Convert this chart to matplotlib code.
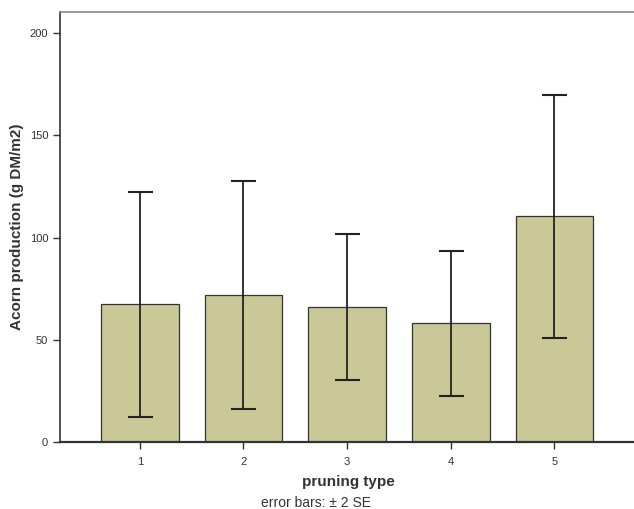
import numpy as np
import matplotlib
matplotlib.use("Agg")
import matplotlib.pyplot as plt

# pruning types and mean acorn production with +/- 2 SE
types = ["1", "2", "3", "4", "5"]
means = [67.4, 71.8, 66.1, 58.0, 110.3]
err2se = [55.0, 55.8, 35.6, 35.5, 59.5]

plt.rcParams["font.family"] = "Liberation Sans"

fig = plt.figure(figsize=(6.34, 5.09), dpi=100)
ax = fig.add_axes([60/634, 67/509, 1 - 60/634 + 0.002, 430/509])

x = np.arange(1, len(types) + 1)
ax.bar(x, means, width=0.75, color="#c9c896", edgecolor="#333333", linewidth=0.9, zorder=2)
ax.errorbar(x, means, yerr=err2se, fmt="none", ecolor="#222222", elinewidth=1.3,
            capsize=9, capthick=1.5, zorder=3)

ax.set_xlim(0.23, 5.78)
ax.set_ylim(0, 210.3)
ax.set_xticks(x)
ax.set_xticklabels(types)
ax.set_yticks([0, 50, 100, 150, 200])
ax.tick_params(axis="both", labelsize=8, colors="#333333", length=5, width=1, direction="out")
ax.tick_params(axis="x", pad=6)

ax.spines["right"].set_visible(False)
ax.spines["top"].set_color("#888888")
ax.spines["top"].set_linewidth(1.2)
ax.spines["left"].set_color("#333333")
ax.spines["left"].set_linewidth(1.2)
ax.spines["bottom"].set_color("#333333")
ax.spines["bottom"].set_linewidth(1.6)

ax.set_ylabel("Acorn production (g DM/m2)", fontsize=11, fontweight="bold", color="#333333", labelpad=4)
fig.text(348/634, 1 - 482/509, "pruning type", ha="center", va="center",
         fontsize=11, fontweight="bold", color="#333333")
fig.text(316/634, 1 - 503/509, "error bars: \u00b1 2 SE", ha="center", va="center",
         fontsize=10, color="#333333")

fig.savefig("out.png", dpi=100)
